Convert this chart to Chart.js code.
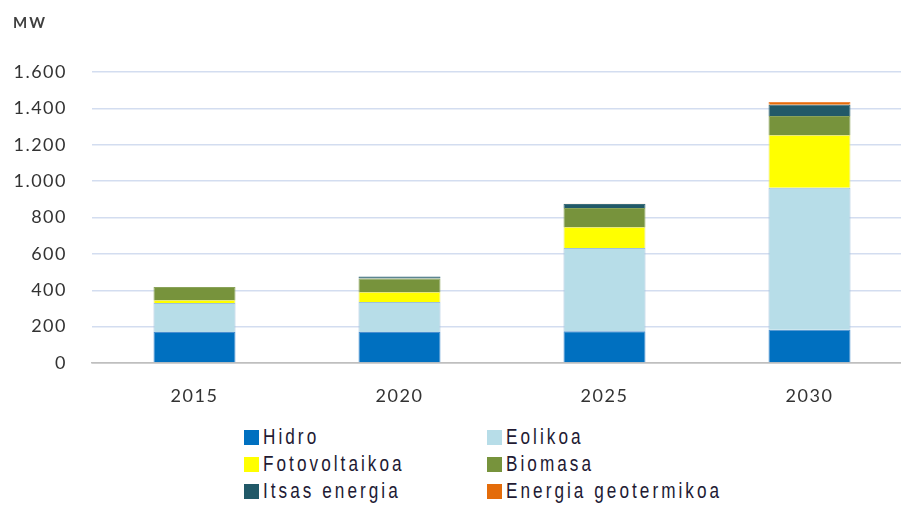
<!DOCTYPE html>
<html>
<head>
<meta charset="utf-8">
<script src="https://cdn.jsdelivr.net/npm/chart.js@4.4.1/dist/chart.umd.min.js"></script>
<style>
  html, body { margin: 0; padding: 0; background: #fff; width: 901px; height: 506px; overflow: hidden; }
  #wrap { position: relative; width: 901px; height: 506px; overflow: hidden; }
  #cv { position: absolute; left: 0; top: 0; }
  #unit { position: absolute; left: 13px; top: 13px; font: bold 15px Lato, "Open Sans", sans-serif; letter-spacing: 2px; color: #404040; }
  #legend { position: absolute; left: 244px; top: 423px; width: 560px; }
  .item { position: absolute; display: flex; align-items: center; height: 28px; white-space: nowrap; }
  .sw { width: 15px; height: 15px; margin-right: 4px; flex: none; }
  .tx { display: inline-block; transform: scaleX(0.78); transform-origin: left center;
        font-family: "Liberation Sans", Arial, sans-serif; font-size: 22px; letter-spacing: 3.9px; color: #221a33; }
</style>
</head>
<body>
<div id="wrap">
  <canvas id="cv"></canvas>
  <div id="unit">MW</div>
  <div id="legend"></div>
</div>
<script>
// ---- data ----
const categories = ["2015", "2020", "2025", "2030"];
const seriesNames = ["Hidro", "Eolikoa", "Fotovoltaikoa", "Biomasa", "Itsas energia", "Energia geotermikoa"];
const hidro        = [170, 170, 175, 183];
const eolikoa      = [160, 165, 457, 780];
const fotovoltaikoa= [16,  55,  116, 290];
const biomasa      = [72,  75,  104, 105];
const itsasEnergia = [0,   10,  22,  62];
const geotermikoa  = [0,   0,   2,   15];
const yTicks = [0, 200, 400, 600, 800, 1000, 1200, 1400, 1600];

const seriesValues = [hidro, eolikoa, fotovoltaikoa, biomasa, itsasEnergia, geotermikoa];
const colors  = ["#0070c0", "#b7dde8", "#ffff00", "#77933c", "#215968", "#e46c0a"];
const borders = ["#4a8fd0", "#9ec0dc", "#e8e87a", "#8aa35a", "#3b6e7c", "#f08a40"];

const W = 914, H = 412;
const cv = document.getElementById('cv');
cv.width = W; cv.height = H;
cv.style.width = W + 'px'; cv.style.height = H + 'px';

const spacing = {
  id: 'spacing',
  beforeUpdate(chart) { chart.ctx.letterSpacing = '1.5px'; },
  beforeDraw(chart) { chart.ctx.letterSpacing = '1.5px'; }
};

const fmt = v => v.toLocaleString('de-DE');

new Chart(cv, {
  type: 'bar',
  data: {
    labels: categories,
    datasets: seriesNames.map((n, i) => ({
      label: n,
      data: seriesValues[i],
      backgroundColor: colors[i],
      borderColor: borders[i],
      borderWidth: 1,
      barPercentage: 0.8,
      categoryPercentage: 0.5
    }))
  },
  options: {
    responsive: false,
    animation: false,
    devicePixelRatio: 1,
    layout: { padding: { left: 10, top: 72, right: 2, bottom: 0 } },
    plugins: { legend: { display: false }, tooltip: { enabled: false }, title: { display: false } },
    scales: {
      x: {
        stacked: true,
        grid: { display: false, drawTicks: false },
        border: { display: true, color: '#bfbfbf', width: 1.5 },
        ticks: { padding: 22, color: '#333333', font: { family: 'Lato, "Open Sans", sans-serif', size: 18 } },
        afterFit(s) { s.height = 49; }
      },
      y: {
        stacked: true,
        min: 0, max: 1600,
        afterBuildTicks(s) { s.ticks = yTicks.map(v => ({ value: v })); },
        grid: {
          drawTicks: false,
          color: c => c.tick && c.tick.value === 0 ? '#bfbfbf' : '#d3ddf0',
          lineWidth: 1.5
        },
        border: { display: false },
        ticks: {
          padding: 25, color: '#333333',
          font: { family: 'Lato, "Open Sans", sans-serif', size: 18 },
          callback: v => fmt(v)
        },
        afterFit(s) { s.width = 82; }
      }
    }
  },
  plugins: [spacing]
});

// HTML legend (2 columns x 3 rows)
const lg = document.getElementById('legend');
seriesNames.forEach((n, i) => {
  const col = i % 2, row = Math.floor(i / 2);
  const d = document.createElement('div');
  d.className = 'item';
  d.style.left = (col === 0 ? 0 : 243) + 'px';
  d.style.top = (row * 27) + 'px';
  d.innerHTML = '<span class="sw" style="background:' + colors[i] + '"></span><span class="tx">' + n + '</span>';
  lg.appendChild(d);
});
</script>
</body>
</html>
